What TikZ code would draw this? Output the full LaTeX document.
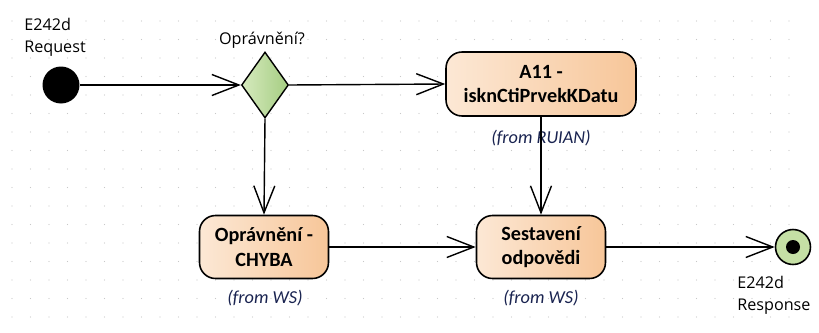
\documentclass[tikz,border=0pt]{standalone}
\usepackage{fontspec}
\setmainfont{Carlito}
\newfontfamily\lblfont{Open Sans}
\usetikzlibrary{shapes.geometric,arrows.meta}

\definecolor{peachL}{RGB}{252,232,213}
\definecolor{peachR}{RGB}{247,198,153}
\definecolor{greenL}{RGB}{214,234,190}
\definecolor{greenR}{RGB}{165,205,130}
\definecolor{endgreen}{RGB}{197,224,165}
\definecolor{fromblue}{RGB}{25,35,80}
\definecolor{griddot}{RGB}{200,200,200}

\tikzset{
    flow/.style={line width=0.8pt, -{Straight Barb[length=0.54cm,width=0.42cm,line width=0.8pt]}},
    actbox/.style={draw, line width=0.9pt, rounded corners=0.32cm, left color=peachL, right color=peachR,
        align=center, font=\bfseries\fontsize{11.5}{14}\selectfont, inner sep=0pt},
    lbl/.style={font=\lblfont\fontsize{9.2}{12.6}\selectfont, align=left, inner sep=0pt},
    fromlbl/.style={font=\itshape\fontsize{10.4}{12}\selectfont, text=fromblue, inner sep=0pt},
}

\begin{document}
\begin{tikzpicture}[x=0.02cm, y=-0.02cm]
    % Page frame
    \useasboundingbox (0,0) rectangle (819,332);

    % Dotted background grid
    \foreach \i in {0,...,42}
        \foreach \j in {0,...,16}
            \fill[griddot] (12+18.5*\i, 21+18.5*\j) circle (0.012cm);

    % Start and decision
    \node[circle, fill=black, minimum size=0.74cm, inner sep=0pt] (start) at (61,85) {};
    \node[lbl, anchor=north west] (reqlbl) at (24,18) {E242d\\Request};
    \node[diamond, draw, line width=0.8pt, left color=greenL, right color=greenR,
        minimum width=0.94cm, minimum height=1.32cm, inner sep=0pt] (dec) at (265,85) {};
    \node[lbl] (declbl) at (262,40) {Oprávnění?};

    % Activities
    \node[actbox, minimum width=3.8cm, minimum height=1.28cm] (a11) at (541,84) {A11 -\\isknCtiPrvekKDatu};
    \node[fromlbl] (a11from) at (541,138) {(from RUIAN)};
    \node[actbox, minimum width=2.58cm, minimum height=1.26cm] (chyba) at (264,247) {Oprávnění -\\CHYBA};
    \node[fromlbl] (chybafrom) at (265,298) {(from WS)};
    \node[actbox, minimum width=2.58cm, minimum height=1.26cm] (sest) at (541,247) {Sestavení\\odpovědi};
    \node[fromlbl] (sestfrom) at (541,298) {(from WS)};

    % End
    \node[circle, draw, line width=0.9pt, fill=endgreen, minimum size=0.7cm, inner sep=0pt] (stop) at (793,247) {};
    \fill (stop) circle (0.14cm);
    \node[lbl, anchor=north west] (reslbl) at (737,276) {E242d\\Response};

    % Transitions
    \draw[flow] (start) -- (dec.west);
    \draw[flow] (dec.east) -- (a11.west);
    \draw[flow] (dec.south) -- (chyba.north);
    \draw[flow] (a11.south) -- (sest.north);
    \draw[flow] (chyba.east) -- (sest.west);
    \draw[flow] (sest.east) -- (stop.west);
\end{tikzpicture}
\end{document}
